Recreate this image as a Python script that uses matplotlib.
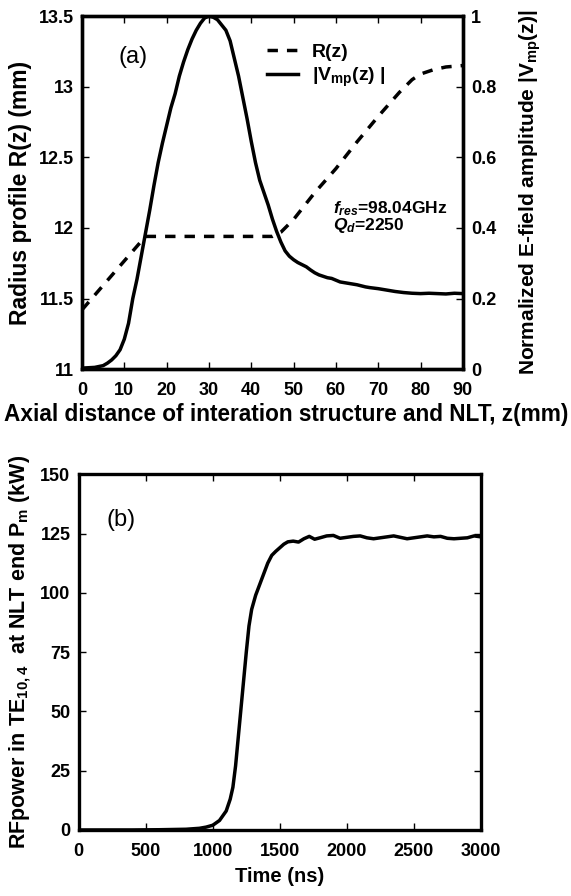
import numpy as np
import matplotlib.pyplot as plt
from matplotlib import font_manager

plt.rcParams.update({
    'font.family': ['Liberation Sans', 'DejaVu Sans'],
    'font.weight': 'bold',
    'axes.labelweight': 'bold',
    'mathtext.fontset': 'custom',
    'mathtext.rm': 'Liberation Sans:bold',
    'mathtext.it': 'Liberation Sans:bold:italic',
    'mathtext.bf': 'Liberation Sans:bold',
    'mathtext.default': 'rm',
})

# narrow face for the tick numbers if it is there
_names = {f.name for f in font_manager.fontManager.ttflist}
if 'Liberation Sans Narrow' in _names:
    TICK_FONT, TICK_SIZE = 'Liberation Sans Narrow', 14.5
else:
    TICK_FONT, TICK_SIZE = 'Liberation Sans', 13

# (a) radius profile of the interaction structure + NLT
z_r = [0, 15, 45, 47, 50, 55, 60, 65, 70, 75, 78, 80, 83, 86, 90]
r_z = [11.42, 11.94, 11.94, 11.97, 12.06, 12.25, 12.42, 12.61, 12.79, 12.96,
       13.05, 13.09, 13.12, 13.14, 13.15]

# (a) normalized field amplitude |Vmp(z)|
z_v = [0, 3, 5, 6, 7, 8, 9, 10, 11, 12, 13, 14, 15, 16, 17, 18, 19, 20, 21, 22,
       23, 24, 25, 26, 27, 28, 29, 30, 31, 32, 33, 34, 35, 36, 37, 38, 39, 40,
       41, 42, 43, 44, 45, 46, 47, 48, 49, 50, 51, 52, 53, 54, 55, 56, 57, 58,
       59, 60, 61, 62, 63, 64, 65, 66, 67, 68, 70, 72, 74, 76, 78, 80, 82, 84,
       86, 88, 90]
v_z = [0.003, 0.005, 0.01, 0.017, 0.026, 0.038, 0.055, 0.085, 0.13, 0.2, 0.255,
       0.32, 0.385, 0.45, 0.52, 0.585, 0.64, 0.69, 0.74, 0.78, 0.83, 0.87, 0.905,
       0.935, 0.96, 0.98, 0.995, 1.0, 0.997, 0.99, 0.975, 0.96, 0.93, 0.88, 0.83,
       0.77, 0.71, 0.645, 0.585, 0.535, 0.5, 0.465, 0.425, 0.39, 0.36, 0.335,
       0.32, 0.31, 0.302, 0.296, 0.29, 0.281, 0.273, 0.267, 0.263, 0.259, 0.257,
       0.252, 0.247, 0.245, 0.243, 0.241, 0.239, 0.236, 0.233, 0.231, 0.228,
       0.224, 0.22, 0.217, 0.215, 0.214, 0.215, 0.214, 0.213, 0.215, 0.214]

# (b) RF power at NLT end vs time
t_ns = [0, 200, 400, 600, 800, 900, 950, 1000, 1050, 1100, 1130, 1150, 1170,
        1190, 1210, 1230, 1250, 1270, 1290, 1320, 1350, 1380, 1410, 1440, 1470,
        1500, 1530, 1560, 1600, 1640, 1680, 1720, 1760, 1800, 1850, 1900, 1950,
        2000, 2050, 2100, 2150, 2200, 2250, 2300, 2350, 2400, 2450, 2500, 2550,
        2600, 2650, 2700, 2750, 2800, 2850, 2900, 2950, 3000]
p_kw = [0, 0, 0, 0.1, 0.3, 0.7, 1.2, 2, 4, 8, 13, 18, 27, 39, 51, 63, 75, 86,
        93, 99, 103.5, 108, 112.5, 115.8, 117.5, 119, 120.5, 121.5, 121.8,
        121.4, 122.8, 123.8, 122.6, 123.2, 124, 124.2, 123, 123.4, 123.8, 124,
        123.2, 122.8, 123.2, 123.6, 124, 123.4, 122.8, 123.2, 123.6, 124, 123.6,
        123.8, 123, 122.8, 123, 123.2, 124, 123.6]

fig = plt.figure(figsize=(5.71, 8.96), dpi=100)
ax1 = fig.add_axes([0.1436, 0.588, 0.667, 0.394])
ax1b = ax1.twinx()
ax2 = fig.add_axes([0.138, 0.0737, 0.704, 0.397])

lw = 2.5
ln_r, = ax1.plot(z_r, r_z, color='black', lw=lw, linestyle=(0, (3.0, 2.6)))
ln_v, = ax1b.plot(z_v, v_z, color='black', lw=lw)

ax1.set_xlim(0, 90)
ax1.set_ylim(11, 13.5)
ax1b.set_ylim(0, 1)
ax1.set_xticks(np.arange(0, 91, 10))
ax1.set_yticks([11, 11.5, 12, 12.5, 13, 13.5])
ax1.set_yticklabels(['11', '11.5', '12', '12.5', '13', '13.5'])
ax1b.set_yticks([0, 0.2, 0.4, 0.6, 0.8, 1])
ax1b.set_yticklabels(['0', '0.2', '0.4', '0.6', '0.8', '1'])

ax1.set_xlabel('Axial distance of interation structure and NLT, z(mm)',
               fontsize=16.3)
ax1.xaxis.set_label_coords(0.535, -0.095)
ax1.xaxis.label.set_va('top')
ax1.set_ylabel('Radius profile R(z) (mm)', fontsize=16.5, labelpad=5)
ax1b.set_ylabel('Normalized E-field amplitude |V$_{mp}$(z)|', fontsize=15,
                rotation=90, labelpad=15)

ax1.text(0.095, 0.885, '(a)', transform=ax1.transAxes, fontsize=17,
         fontweight='normal', ha='left', va='center')
ax1.text(0.658, 0.455, r'$\mathit{f}_{\mathit{res}}$=98.04GHz',
         transform=ax1.transAxes, fontsize=12.5, ha='left', va='center')
ax1.text(0.658, 0.407, r'$\mathit{Q}_{\mathit{d}}$=2250',
         transform=ax1.transAxes, fontsize=12.5, ha='left', va='center')

ax1.legend([ln_r, ln_v], ['R(z)', '|V$_{mp}$(z) |'], loc='upper left',
           bbox_to_anchor=(0.46, 0.95), frameon=False, fontsize=14,
           handlelength=1.6, handletextpad=0.7, borderpad=0, labelspacing=0.25)

ax2.plot(t_ns, p_kw, color='black', lw=lw)
ax2.set_xlim(0, 3000)
ax2.set_ylim(0, 150)
ax2.set_xticks(np.arange(0, 3001, 500))
ax2.set_yticks(np.arange(0, 151, 25))
ax2.set_xlabel('Time (ns)', fontsize=14.5, labelpad=5)
ax2.set_ylabel('RFpower in TE$_{10,4}$  at NLT end P$_m$ (kW)', fontsize=15.5,
               labelpad=5)
ax2.text(0.07, 0.87, '(b)', transform=ax2.transAxes, fontsize=17,
         fontweight='normal', ha='left', va='center')

for ax in (ax1, ax1b, ax2):
    for sp in ax.spines.values():
        sp.set_linewidth(2.4)
    ax.tick_params(direction='in', length=5, width=1.0, labelsize=TICK_SIZE)
    ax.tick_params(axis='x', pad=9.5)
    ax.tick_params(axis='y', pad=6)
    for lab in ax.get_xticklabels() + ax.get_yticklabels():
        lab.set_family(TICK_FONT)
        lab.set_fontweight('bold')

ax1.tick_params(top=True, right=False)
ax1b.tick_params(right=True)
ax2.tick_params(top=True, right=True)

fig.savefig('out.png', dpi=100)
